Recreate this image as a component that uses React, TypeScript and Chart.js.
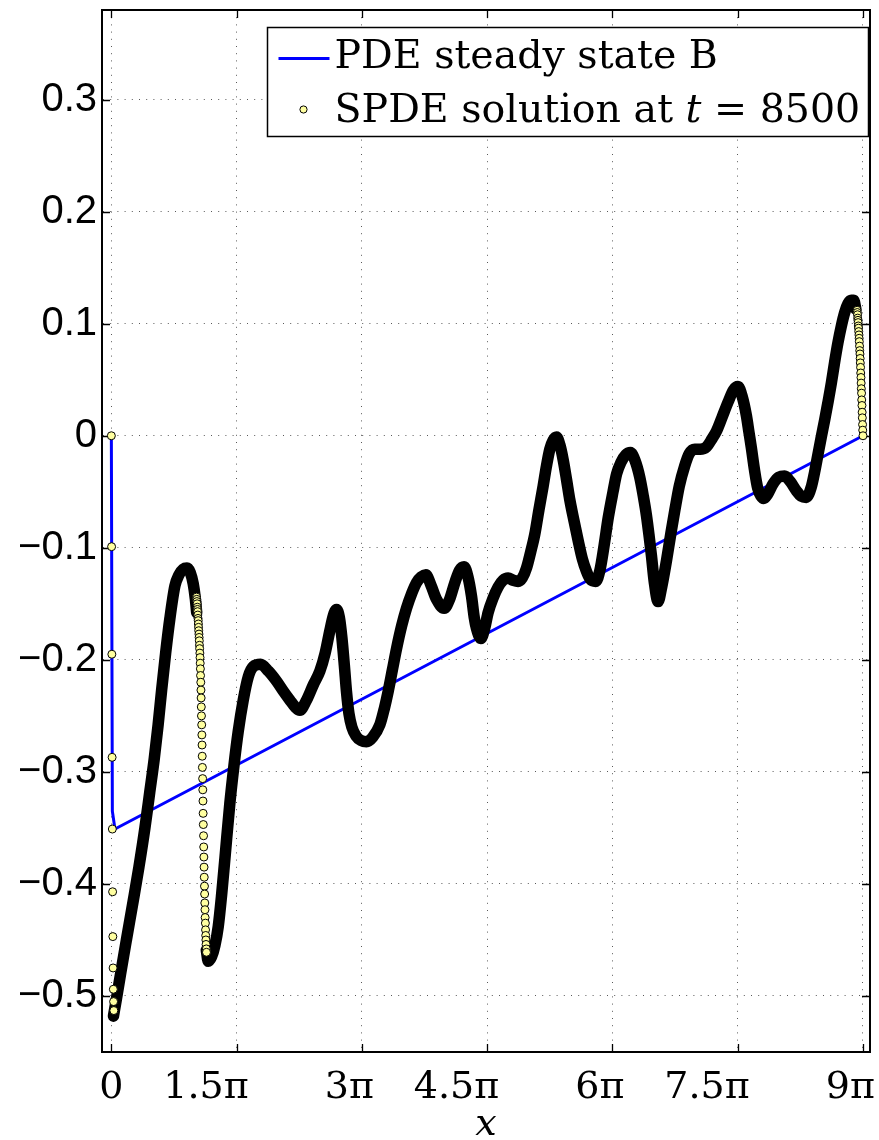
import React, { useEffect, useRef } from 'react';
import { Chart, registerables } from 'chart.js';

Chart.register(...registerables);

// ---------------- data (x in units of π) ----------------
const xTickValues = [0, 1.5, 3, 4.5, 6, 7.5, 9];
const xTickLabels = ['0', '1.5π', '3π', '4.5π', '6π', '7.5π', '9π'];
const yTickValues = [-0.5, -0.4, -0.3, -0.2, -0.1, 0, 0.1, 0.2, 0.3];
const yTickLabels = ['−0.5', '−0.4', '−0.3', '−0.2', '−0.1', '0', '0.1', '0.2', '0.3'];
const xAxisTitle = 'x';
const pdeLabel = 'PDE steady state B';
const spdeLabelParts = ['SPDE solution at ', 't', ' = 8500'];

// PDE steady state B
const pdeCurve: [number, number][] = [
  [0, 0], [0.012, -0.335], [0.043, -0.351], [9, 0],
];

// SPDE solution: dense part (reads as a thick black band)
const spdeBand: [number, number | null][] = [
  [0.025, -0.518], [0.06, -0.503], [0.111, -0.48], [0.18, -0.45], [0.262, -0.415], [0.33, -0.385],
  [0.402, -0.35], [0.46, -0.318], [0.514, -0.288], [0.56, -0.258], [0.602, -0.227], [0.65, -0.194],
  [0.701, -0.163], [0.761, -0.134], [0.81, -0.124], [0.86, -0.119], [0.905, -0.118], [0.945, -0.122],
  [0.98, -0.132], [1.005, -0.145], [1.022, -0.158],
  [1.08, null],
  [1.137, -0.459], [1.16, -0.469], [1.2, -0.465], [1.24, -0.455], [1.28, -0.438], [1.32, -0.41],
  [1.36, -0.377], [1.419, -0.328], [1.467, -0.295], [1.519, -0.264], [1.579, -0.236], [1.64, -0.215],
  [1.7, -0.206], [1.787, -0.204], [1.88, -0.21], [1.978, -0.219], [2.06, -0.228], [2.138, -0.236],
  [2.2, -0.242], [2.257, -0.245], [2.33, -0.237], [2.42, -0.222], [2.497, -0.21], [2.56, -0.194],
  [2.616, -0.174], [2.66, -0.16], [2.696, -0.155], [2.73, -0.162], [2.76, -0.18], [2.79, -0.205],
  [2.815, -0.228], [2.845, -0.248], [2.88, -0.26], [2.93, -0.268], [2.99, -0.272], [3.055, -0.273],
  [3.13, -0.269], [3.215, -0.258], [3.27, -0.243], [3.315, -0.228], [3.365, -0.209], [3.415, -0.19],
  [3.475, -0.17], [3.534, -0.154], [3.6, -0.14], [3.654, -0.131], [3.71, -0.126], [3.765, -0.124],
  [3.83, -0.134], [3.893, -0.146], [3.985, -0.154], [4.05, -0.146], [4.113, -0.131], [4.17, -0.12],
  [4.224, -0.117], [4.27, -0.126], [4.312, -0.143], [4.345, -0.162], [4.372, -0.172], [4.424, -0.181],
  [4.47, -0.172], [4.511, -0.158], [4.57, -0.145], [4.631, -0.135], [4.69, -0.129], [4.751, -0.127],
  [4.81, -0.129], [4.87, -0.13], [4.92, -0.127], [4.971, -0.118], [5.02, -0.104], [5.07, -0.088],
  [5.12, -0.066], [5.17, -0.045], [5.21, -0.027], [5.25, -0.012], [5.29, -0.004], [5.33, -0.001],
  [5.37, -0.008], [5.409, -0.021], [5.45, -0.039], [5.489, -0.057], [5.54, -0.076], [5.588, -0.093],
  [5.64, -0.11], [5.689, -0.121], [5.735, -0.128], [5.8, -0.13], [5.85, -0.12], [5.9, -0.098],
  [5.95, -0.073], [6.007, -0.05], [6.05, -0.034], [6.1, -0.024], [6.16, -0.017], [6.215, -0.015],
  [6.27, -0.022], [6.327, -0.037], [6.37, -0.054], [6.407, -0.071], [6.44, -0.09], [6.467, -0.107],
  [6.5, -0.13], [6.546, -0.148], [6.59, -0.135], [6.646, -0.112], [6.7, -0.087], [6.746, -0.067],
  [6.8, -0.045], [6.865, -0.027], [6.92, -0.016], [6.985, -0.012], [7.05, -0.012], [7.125, -0.01],
  [7.19, -0.003], [7.245, 0.004], [7.31, 0.016], [7.384, 0.03], [7.45, 0.041], [7.503, 0.044],
  [7.55, 0.036], [7.604, 0.018], [7.635, 0.003], [7.664, -0.011], [7.7, -0.03], [7.74, -0.047],
  [7.78, -0.054], [7.811, -0.056], [7.86, -0.052], [7.923, -0.043], [7.99, -0.037], [8.062, -0.036],
  [8.13, -0.041], [8.202, -0.049], [8.26, -0.054], [8.322, -0.055], [8.38, -0.046], [8.422, -0.032],
  [8.46, -0.017], [8.501, -0.001], [8.541, 0.014], [8.581, 0.03], [8.621, 0.047], [8.661, 0.066],
  [8.7, 0.083], [8.741, 0.098], [8.781, 0.11], [8.821, 0.118], [8.86, 0.121], [8.889, 0.121],
  [8.915, 0.113],
];

// SPDE solution: individually visible markers (steep parts)
const spdeDotsLeftX = [0, 0.003, 0.006, 0.009, 0.012, 0.015, 0.018, 0.021, 0.024, 0.027, 0.03];
const spdeDotsLeftY = [0, -0.099, -0.195, -0.287, -0.351, -0.407, -0.447, -0.475, -0.494, -0.505, -0.513];

const spdeDotsMidX = [
  1.02, 1.022, 1.024, 1.027, 1.029, 1.031, 1.033, 1.035, 1.038, 1.04, 1.042, 1.044, 1.046, 1.049,
  1.051, 1.053, 1.055, 1.057, 1.06, 1.062, 1.064, 1.066, 1.068, 1.071, 1.073, 1.075, 1.077, 1.079,
  1.082, 1.084, 1.086, 1.088, 1.09, 1.093, 1.095, 1.097, 1.099, 1.101, 1.104, 1.106, 1.108, 1.11,
  1.112, 1.115, 1.117, 1.119, 1.121, 1.123, 1.126, 1.128, 1.13, 1.132, 1.134, 1.137, 1.139,
];
const spdeDotsMidY = [
  -0.144, -0.146, -0.148, -0.15, -0.153, -0.155, -0.157, -0.16, -0.163, -0.165, -0.168, -0.171,
  -0.174, -0.177, -0.18, -0.183, -0.187, -0.19, -0.194, -0.198, -0.203, -0.208, -0.214, -0.22,
  -0.227, -0.234, -0.242, -0.25, -0.258, -0.267, -0.276, -0.286, -0.296, -0.306, -0.316, -0.326,
  -0.337, -0.347, -0.357, -0.367, -0.376, -0.385, -0.394, -0.402, -0.409, -0.417, -0.423, -0.43,
  -0.435, -0.441, -0.446, -0.45, -0.454, -0.458, -0.461,
];

const spdeDotsRightX = [
  8.93, 8.932, 8.935, 8.937, 8.94, 8.942, 8.944, 8.947, 8.949, 8.952, 8.954, 8.956, 8.959, 8.961,
  8.964, 8.966, 8.968, 8.971, 8.973, 8.976, 8.978, 8.98, 8.983, 8.985, 8.988, 8.99, 8.992, 8.995,
  8.997, 9.0,
];
const spdeDotsRightY = [
  0.112, 0.11, 0.108, 0.105, 0.103, 0.101, 0.098, 0.096, 0.093, 0.09, 0.087, 0.084, 0.08, 0.076,
  0.073, 0.069, 0.065, 0.061, 0.056, 0.052, 0.047, 0.042, 0.038, 0.032, 0.027, 0.021, 0.016, 0.01,
  0.005, 0,
];

// ---------------- helpers ----------------
const toPts = (xs: number[], ys: number[]) => xs.map((x, i) => ({ x, y: ys[i] }));
const pairsToPts = (p: [number, number | null][]) => p.map(([x, y]) => ({ x, y }));

const SERIF = '"DejaVu Serif", "Liberation Serif", serif';
const SANS = '"Liberation Sans", Arial, Helvetica, sans-serif';
const DOT_FILL = 'rgb(255,255,160)';
const LEGEND_FONT = 39.5;

const framePlugin = {
  id: 'frameTicks',
  beforeDatasetsDraw(chart: any) {
    const { ctx, chartArea: a, scales } = chart;
    ctx.save();
    ctx.strokeStyle = '#000';
    ctx.lineWidth = 1.3;
    const tl = 8;
    ctx.beginPath();
    for (const t of scales.x.ticks) {
      const px = Math.round(scales.x.getPixelForValue(t.value)) + 0.5;
      ctx.moveTo(px, a.bottom);
      ctx.lineTo(px, a.bottom - tl);
      ctx.moveTo(px, a.top);
      ctx.lineTo(px, a.top + tl);
    }
    for (const t of scales.y.ticks) {
      const py = Math.round(scales.y.getPixelForValue(t.value)) + 0.5;
      ctx.moveTo(a.left, py);
      ctx.lineTo(a.left + tl, py);
      ctx.moveTo(a.right, py);
      ctx.lineTo(a.right - tl, py);
    }
    ctx.stroke();
    ctx.restore();
  },
  afterDraw(chart: any) {
    const { ctx, chartArea: a } = chart;
    ctx.save();
    // top and right edges of the box
    ctx.strokeStyle = '#000';
    ctx.lineWidth = 2;
    ctx.beginPath();
    ctx.moveTo(a.left - 1, a.top);
    ctx.lineTo(a.right, a.top);
    ctx.lineTo(a.right, a.bottom + 1);
    ctx.stroke();

    // legend box
    const boxW = 601;
    const boxH = 109;
    const bx = Math.round(a.right - 2 - boxW) + 0.5;
    const by = Math.round(a.top + 17) + 0.5;
    ctx.fillStyle = '#fff';
    ctx.fillRect(bx, by, boxW, boxH);
    ctx.lineWidth = 1.5;
    ctx.strokeStyle = '#000';
    ctx.strokeRect(bx, by, boxW, boxH);

    // row 1: line sample
    ctx.strokeStyle = '#0000ff';
    ctx.lineWidth = 3;
    ctx.beginPath();
    ctx.moveTo(bx + 11, by + 31);
    ctx.lineTo(bx + 62, by + 31);
    ctx.stroke();
    ctx.fillStyle = '#000';
    ctx.textAlign = 'left';
    ctx.textBaseline = 'alphabetic';
    ctx.font = `${LEGEND_FONT}px ${SERIF}`;
    ctx.fillText(pdeLabel, bx + 67, by + 40);

    // row 2: marker sample
    ctx.beginPath();
    ctx.arc(bx + 36, by + 82, 3.6, 0, Math.PI * 2);
    ctx.fillStyle = DOT_FILL;
    ctx.fill();
    ctx.strokeStyle = '#000';
    ctx.lineWidth = 1;
    ctx.stroke();

    let tx = bx + 67;
    const ty = by + 94;
    ctx.fillStyle = '#000';
    spdeLabelParts.forEach((part, i) => {
      ctx.font = i === 1 ? `italic ${LEGEND_FONT}px ${SERIF}` : `${LEGEND_FONT}px ${SERIF}`;
      ctx.fillText(part, tx, ty);
      tx += ctx.measureText(part).width;
    });
    ctx.restore();
  },
};

export default function App() {
  const canvasRef = useRef<HTMLCanvasElement | null>(null);

  useEffect(() => {
    document.body.style.margin = '0';
    const canvas = canvasRef.current;
    if (!canvas) return;

    const gridOpts = {
      display: true,
      color: 'rgba(0,0,0,0.65)',
      lineWidth: 1,
      drawTicks: false,
    };
    const borderOpts = { display: true, color: '#000', width: 2, dash: [1, 6.2] };

    const chart = new Chart(canvas, {
      type: 'scatter',
      data: {
        datasets: [
          {
            label: 'SPDE solution at t = 8500',
            data: [
              ...toPts(spdeDotsLeftX, spdeDotsLeftY),
              ...toPts(spdeDotsMidX, spdeDotsMidY),
              ...toPts(spdeDotsRightX, spdeDotsRightY),
            ],
            showLine: false,
            pointRadius: 4,
            pointBackgroundColor: DOT_FILL,
            pointBorderColor: '#000',
            pointBorderWidth: 1,
            order: 0,
          },
          {
            label: 'SPDE band',
            data: pairsToPts(spdeBand),
            showLine: true,
            spanGaps: false,
            borderColor: '#000',
            borderWidth: 11.5,
            borderCapStyle: 'round',
            borderJoinStyle: 'round',
            cubicInterpolationMode: 'monotone',
            pointRadius: 0,
            order: 1,
          },
          {
            label: pdeLabel,
            data: pdeCurve.map(([x, y]) => ({ x, y })),
            showLine: true,
            borderColor: '#0000ff',
            borderWidth: 3,
            tension: 0,
            pointRadius: 0,
            order: 2,
          },
        ],
      } as any,
      options: {
        responsive: false,
        animation: false,
        events: [],
        layout: { padding: { top: 10, right: 9, bottom: 0, left: 0 } },
        plugins: {
          legend: { display: false },
          tooltip: { enabled: false },
          title: { display: false },
        },
        scales: {
          x: {
            type: 'linear',
            min: -0.112,
            max: 9.084,
            afterBuildTicks: (s: any) => {
              s.ticks = xTickValues.map((v) => ({ value: v }));
            },
            afterFit: (s: any) => {
              s.height = 88;
              s.paddingLeft = 0;
              s.paddingRight = 0;
            },
            ticks: {
              autoSkip: false,
              maxRotation: 0,
              minRotation: 0,
              align: 'end',
              labelOffset: 12,
              padding: 13,
              color: '#000',
              font: { family: SERIF, size: 38 },
              callback: (_v: any, i: number) => xTickLabels[i],
            },
            grid: gridOpts,
            border: borderOpts,
            title: {
              display: true,
              text: xAxisTitle,
              color: '#000',
              font: { family: SERIF, size: 38, style: 'italic', lineHeight: 1 },
              padding: { top: 0, bottom: -4 },
            },
          },
          y: {
            type: 'linear',
            min: -0.55,
            max: 0.38,
            afterBuildTicks: (s: any) => {
              s.ticks = yTickValues.map((v) => ({ value: v }));
            },
            afterFit: (s: any) => {
              s.width = 102;
              s.paddingTop = 0;
              s.paddingBottom = 0;
            },
            ticks: {
              autoSkip: false,
              padding: 5,
              color: '#000',
              font: { family: SANS, size: 40 },
              callback: (_v: any, i: number) => yTickLabels[i],
            },
            grid: gridOpts,
            border: borderOpts,
          },
        },
      } as any,
      plugins: [framePlugin],
    });

    return () => chart.destroy();
  }, []);

  return (
    <div style={{ width: 879, height: 1140, background: '#fff' }}>
      <canvas ref={canvasRef} width={879} height={1140} style={{ display: 'block' }} />
    </div>
  );
}
